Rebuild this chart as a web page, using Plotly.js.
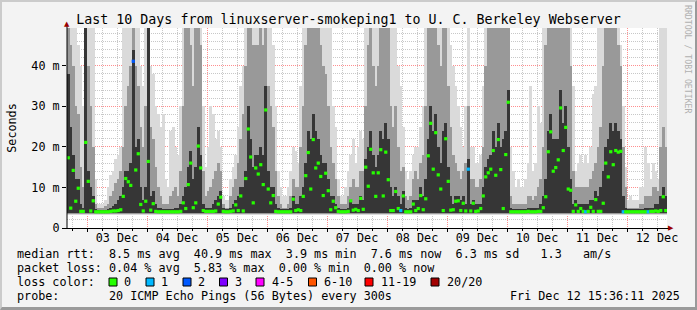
<!DOCTYPE html>
<html>
<head>
<meta charset="utf-8">
<script src="https://cdn.plot.ly/plotly-3.0.1.min.js"></script>
<style>
html,body{margin:0;padding:0;background:#f3f3f3;}
#wrap{position:relative;width:697px;height:310px;overflow:hidden;}
#chart{position:absolute;left:0;top:0;width:697px;height:310px;}
#border{position:absolute;left:0;top:0;width:697px;height:310px;box-sizing:border-box;
 border-top:2px solid #cbcbcb;border-left:2px solid #cbcbcb;border-right:2px solid #9a9a9a;border-bottom:3px solid #9a9a9a;pointer-events:none;}
</style>
</head>
<body>
<div id="wrap"><div id="chart"></div><div id="border"></div></div>
<script>
// ---------- DATA (hourly buckets starting 2025-12-02 16:00) ----------
const chartTitle = 'Last 10 Days from linuxserver-smokeping1 to U. C. Berkeley Webserver';
const yTickValues = [0, 10, 20, 30, 40];
const yTickLabels = ['0', '10 m', '20 m', '30 m', '40 m'];

// median RTT (ms)
const medianRtt = [
17.3,4.9,14.2,6.6,9.8,4.1,4.1,21.1,11.5,4.2,6.7,4.0,4.0,4.0,4.0,4.0,4.0,4.1,4.2,4.2,
4.3,4.5,7.8,12.2,11.4,10.5,41.1,14.3,18.3,5.8,4.2,6.6,16.4,4.4,6.0,4.1,4.0,4.0,4.0,4.0,
4.0,4.0,4.0,4.0,4.0,4.1,6.2,4.8,10.7,16.0,5.0,6.2,20.2,14.8,4.3,4.1,4.1,4.1,4.1,4.2,
5.9,7.6,4.1,4.0,4.0,4.1,4.2,5.7,4.3,7.9,4.2,12.2,24.4,17.5,6.2,14.8,13.3,15.6,10.7,29.1,
9.6,6.2,8.0,4.1,4.0,4.0,4.0,4.0,4.0,4.0,7.1,4.3,4.5,4.3,7.8,12.9,18.6,9.6,21.8,14.8,
16.0,12.7,8.0,13.5,9.2,4.5,6.6,5.0,4.1,4.0,4.0,4.0,4.1,6.7,4.4,4.6,4.3,7.3,4.6,15.0,
10.3,19.4,13.6,7.8,13.6,19.3,7.9,18.7,11.9,4.3,4.3,9.0,4.8,4.3,7.9,4.0,4.0,4.0,5.9,4.3,
4.8,8.0,4.5,7.2,17.8,25.8,14.5,23.5,13.1,9.6,4.3,22.0,11.5,4.4,4.5,6.6,6.7,4.3,6.1,4.2,
14.5,4.2,6.1,4.1,4.2,4.8,7.9,12.6,13.6,14.5,19.1,13.0,21.8,14.4,4.8,18.1,31.0,4.0,4.0,4.0,
4.0,4.0,4.0,4.0,4.1,4.0,4.0,4.0,4.1,4.1,5.0,7.7,18.8,23.7,14.0,14.9,16.8,29.6,19.1,24.8,
9.6,9.3,4.1,5.7,4.1,4.8,4.1,4.0,4.1,5.1,4.1,7.0,4.1,4.1,6.1,16.0,12.6,18.8,15.6,19.1,
18.7,18.9,4.0,4.0,4.0,4.0,4.0,4.0,4.0,4.0,4.0,4.0,4.0,4.1,4.1,4.2,4.1,4.3,7.7,4.3
];
// smoke: top of the dense (dark) core (ms)
const smokeDark = [
38,25,18,12,12,6,5,60,14,10,8,4.6,4.5,4.5,4.5,4.5,4.6,5,5.5,6,
7,8,10,14,14,16,44,20,22,10,7,10,60,8,9,6,5,5,4.6,4.6,
4.6,4.6,4.6,5,5,6,8,10,15,19,12,15,25,18,6,5,5,5,6,7,
8,9,5,4.6,4.6,5,6,7,8,10,10,14,30,22,15,18,18,20,18,35,
14,10,10,6,5,4.6,4.6,4.6,4.6,5,8,6,6,8,10,16,24,22,28,24,
22,18,16,16,12,8,8,6,5,4.6,4.6,4.6,5,7,6,6,6,8,7,17,
20,24,18,15,18,24,22,26,22,10,8,10,8,6,9,5,4.6,5,7,7,
7,10,8,12,22,30,24,28,20,16,24,26,15,8,6,8,8,7,8,6,
17,6,7,6,6,6,10,15,17,18,24,20,26,20,22,24,34,5,4.6,4.6,
4.6,4.6,4.6,4.6,5,5,5,5,5,6,8,12,24,28,22,22,22,34,26,30,
20,12,6,7,6,6,6,6,6,7,7,9,8,10,14,20,22,26,24,26,
24,22,8,5,4.6,4.6,4.6,4.6,4.6,4.6,4.6,5,5,5,5,6,6,8,10,8
];
// smoke: top of the medium band (ms)
const smokeMid = [
60,45,40,30,28,15,10,60,40,30,20,6,5,5,5,5.5,6,8,9,11,
12,14,20,30,35,40,60,40,35,25,20,30,60,25,22,15,10,8,6,6,
6,8,9,10,8,14,30,60,60,45,35,60,60,45,14,8,9,10,12,14,
16,14,6,5,5,8,10,12,16,22,28,40,60,60,45,45,45,60,45,60,
35,30,25,14,8,6,5,5,6,8,12,10,10,20,30,45,60,60,60,60,
60,45,40,38,30,20,16,12,8,6,6,6,8,10,12,10,10,14,14,30,
45,60,40,35,40,60,60,60,60,30,25,30,20,14,15,8,7,8,12,14,
12,16,18,30,60,60,60,60,45,40,60,60,35,25,18,16,14,12,14,16,
30,12,12,10,10,12,20,40,60,60,60,60,60,60,60,60,60,8,6,6,
6,6,6,6,8,8,7,8,10,12,20,45,60,60,60,60,60,60,60,60,
60,40,14,10,10,10,10,10,10,12,14,16,20,25,40,60,60,60,60,60,
45,40,20,10,5,5,5,5,5,6,6,8,8,8,10,10,9,20,25,20
];
// smoke: maximum (ms)
const smokeMax = [
60,60,60,60,45,40,30,60,60,60,60,12,6,6,6,7,10,13,14,17,
18,20,60,60,60,60,60,60,60,40,35,60,60,40,38,30,28,25,28,12,
10,24,25,20,18,30,60,60,60,60,60,60,60,60,30,15,20,30,28,22,
24,20,8,7,7,12,15,18,25,35,40,60,60,60,60,60,60,60,60,60,
60,60,45,30,14,10,8,8,10,14,20,19,16,35,60,60,60,60,60,60,
60,60,60,60,60,60,30,25,12,8,8,10,14,18,22,16,20,24,22,60,
60,60,60,60,60,60,60,60,60,60,60,60,40,35,25,14,12,14,18,20,
20,25,30,60,60,60,60,60,60,60,60,60,60,45,40,35,30,25,20,30,
60,20,20,16,16,18,35,60,60,60,60,60,60,60,60,60,60,20,14,10,
12,10,10,12,16,35,14,16,30,26,60,60,60,60,60,60,60,60,60,60,
60,60,35,14,16,18,16,18,16,20,33,35,60,60,60,60,60,60,60,60,
60,45,30,15,7,8,7,7,7,10,10,20,16,12,16,14,12,60,60,60
];
const smokeMin = 3.4;         // lowest ping (ms)
// buckets with packet loss (bucket index, pings lost of 20)
const lossBuckets = [26, 133, 160, 207, 222, 232];
const lossCounts  = [2, 1, 1, 1, 1, 1];

const lossLabels = ['0', '1', '2', '3', '4-5', '6-10', '11-19', '20/20'];
const lossColors = ['#26ff00', '#00b8ff', '#0059ff', '#7e00ff', '#ff00ff', '#ff5500', '#ff0000', '#a10000'];
const rttStats  = ['8.5 ms avg', '40.9 ms max', '3.9 ms min', '7.6 ms now', '6.3 ms sd', '1.3', 'am/s'];
const lossStats = ['0.04 % avg', '5.83 % max', '0.00 % min', '0.00 % now'];
const probeText = '20 ICMP Echo Pings (56 Bytes) every 300s';
const stampText = 'Fri Dec 12 15:36:11 2025';

// ---------- BUILD ----------
const START = Date.UTC(2025, 11, 2, 16, 0, 0);
const HOUR = 3600000;
const iso = t => new Date(t).toISOString().replace('T', ' ').slice(0, 19);
const xs = medianRtt.map((_, i) => iso(START + (i + 0.5) * HOUR));
const lossOf = i => { const k = lossBuckets.indexOf(i); return k < 0 ? 0 : lossCounts[k]; };
const colorIdx = n => n === 0 ? 0 : n === 1 ? 1 : n === 2 ? 2 : n === 3 ? 3 : n <= 5 ? 4 : n <= 10 ? 5 : n <= 19 ? 6 : 7;
const medColors = medianRtt.map((_, i) => lossColors[colorIdx(lossOf(i))]);

const FONT = 'DejaVu Sans Mono, monospace';
const bar = (tops, base, color) => ({
  type: 'bar', x: xs, y: tops.map(v => v - base), base: base, width: HOUR * 1.05,
  marker: {color: color, line: {width: 0}}, hoverinfo: 'skip'
});
const traces = [
  bar(smokeMax, smokeMin - 0.2, '#dadada'),
  bar(smokeMid, smokeMin + 0.1, '#999999'),
  bar(smokeDark, smokeMin + 0.3, '#363636'),
  {type: 'scatter', mode: 'markers', x: xs, y: medianRtt,
   marker: {symbol: 'square', size: 3.2, color: medColors, line: {width: 0}}, hoverinfo: 'skip'}
];

// pixel helpers for layout decorations (plot area: x 67..667, y 28..228)
const PL = 67, PW = 600, PB = 228, PH = 200;
const px = x => (x - PL) / PW;
const py = y => (PB - y) / PH;
const NB = '\u00A0';
// monospace line builder: [column, text] pairs
const line = parts => {
  let s = '';
  parts.forEach(([col, t]) => { while (s.length < col) s += NB; s += t.replace(/ /g, NB); });
  return s;
};

const annotations = [];
const shapes = [];
const txt = (x, y, t, extra) => annotations.push(Object.assign({
  xref: 'paper', yref: 'paper', x: px(x), y: py(y), text: t, showarrow: false,
  xanchor: 'left', yanchor: 'middle', borderpad: 0, font: {family: FONT, size: 11.75, color: '#000'}
}, extra || {}));

txt(16, 254, line([[0, 'median rtt:'], [13, rttStats[0]], [25, rttStats[1]], [38, rttStats[2]],
                   [50, rttStats[3]], [62, rttStats[4]], [74, rttStats[5]], [80, rttStats[6]]]));
txt(16, 268, line([[0, 'packet loss:'], [13, lossStats[0]], [25, lossStats[1]], [37, lossStats[2]], [49, lossStats[3]]]));
txt(16, 282, 'loss color:');
const boxX = [109, 146, 183, 219.5, 256, 308.5, 365, 431];
const labX = [122.5, 160, 197, 233.5, 270.5, 322.5, 380, 446];
lossLabels.forEach((l, i) => {
  shapes.push({type: 'rect', xref: 'paper', yref: 'paper', x0: px(boxX[i]), x1: px(boxX[i] + 8),
    y0: py(286), y1: py(278), fillcolor: lossColors[i], line: {color: '#000', width: 1}});
  txt(labX[i], 282, l);
});
txt(16, 296, line([[0, 'probe:'], [13, probeText]]));
txt(681, 296, stampText, {xanchor: 'right'});
// vertical credit
annotations.push({xref: 'paper', yref: 'paper', x: px(688), y: py(59), text: 'RRDTOOL / TOBI OETIKER',
  textangle: 90, showarrow: false, xanchor: 'center', yanchor: 'middle',
  font: {family: FONT, size: 8.2, color: '#b0b0b0'}});
// axis arrows
annotations.push({xref: 'paper', yref: 'paper', x: px(67), y: py(23.5), text: '▲', showarrow: false,
  xanchor: 'center', yanchor: 'middle', font: {family: 'DejaVu Sans', size: 7, color: '#9a0000'}});
annotations.push({xref: 'paper', yref: 'paper', x: px(671), y: py(228), text: '▶', showarrow: false,
  xanchor: 'center', yanchor: 'middle', font: {family: 'DejaVu Sans', size: 7, color: '#9a0000'}});
// axis line extensions
shapes.push({type: 'line', xref: 'paper', yref: 'paper', x0: px(67), x1: px(67), y0: py(25), y1: py(229), line: {color: '#000', width: 1}, layer: 'above'});
shapes.push({type: 'line', xref: 'paper', yref: 'paper', x0: px(62), x1: px(669), y0: py(228.5), y1: py(228.5), line: {color: '#000', width: 1}, layer: 'above'});

const layout = {
  width: 697, height: 310,
  margin: {l: PL, r: 697 - PL - PW, t: 28, b: 310 - PB, pad: 0},
  paper_bgcolor: '#f3f3f3', plot_bgcolor: '#ffffff',
  barmode: 'overlay', bargap: 0, showlegend: false,
  font: {family: FONT, size: 11.75, color: '#000'},
  title: {text: chartTitle, font: {family: FONT, size: 13.3, color: '#000'},
          x: 0.5, xref: 'container', xanchor: 'center', y: 1 - 19 / 310, yref: 'container', yanchor: 'middle'},
  xaxis: {
    type: 'date', range: [iso(START), iso(START + 240 * HOUR)],
    tick0: '2025-12-03 00:00:00', dtick: 86400000, ticklabelmode: 'period', tickformat: '%d %b',
    ticklabelstandoff: -4,
    showgrid: true, gridcolor: '#ff8f8f', griddash: '1px,1px', gridwidth: 1,
    ticks: 'outside', ticklen: 3, tickcolor: '#000', showline: false, zeroline: false,
    minor: {dtick: 6 * HOUR, showgrid: true, gridcolor: '#c8c8c8', griddash: '1px,1px', ticks: 'outside', ticklen: 2, tickcolor: '#000'},
    tickfont: {family: FONT, size: 11.75}, fixedrange: true
  },
  yaxis: {
    range: [0, 49.3], tickmode: 'array', tickvals: yTickValues, ticktext: yTickLabels,
    showgrid: true, gridcolor: '#ff8f8f', griddash: '1px,1px', gridwidth: 1,
    ticks: 'outside', ticklen: 4, tickcolor: '#000', showline: false, zeroline: false,
    minor: {tickmode: 'linear', tick0: 0, dtick: 2, showgrid: true, gridcolor: '#c8c8c8', griddash: '1px,1px'},
    tickfont: {family: FONT, size: 11.75},
    title: {text: 'Seconds', standoff: 12, font: {family: FONT, size: 11.75}}, fixedrange: true
  },
  annotations: annotations, shapes: shapes
};
Plotly.newPlot('chart', traces, layout, {displayModeBar: false, staticPlot: true});
</script>
</body>
</html>
